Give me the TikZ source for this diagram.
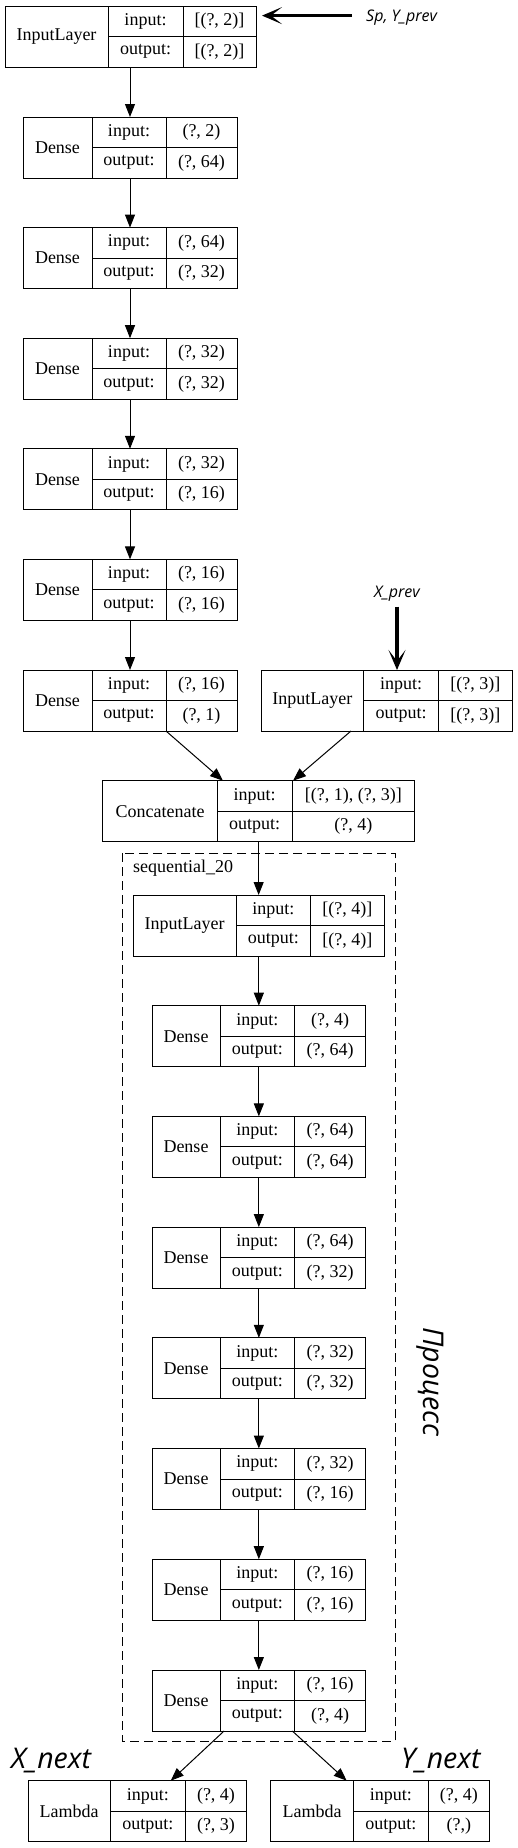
\documentclass[tikz,border=0pt]{standalone}
\usepackage{fontspec}
\setmainfont{Liberation Serif}
\newfontfamily\osans{Open Sans}
\usetikzlibrary{arrows.meta,calc}
\tikzset{
  rbox/.style={draw, line width=1pt, inner sep=0pt, outer sep=0pt, minimum height=61pt},
  rline/.style={line width=1pt},
  rtext/.style={inner sep=0pt, font=\fontsize{18}{20}\selectfont},
  edge/.style={line width=1pt, -{Triangle[length=13pt,width=10pt]}},
  bigarrow/.style={line width=3.2pt, -{Stealth[length=20pt,width=17pt,inset=11pt]}},
  small/.style={inner sep=0pt, font=\osans\itshape\fontsize{16}{18}\selectfont},
  big/.style={inner sep=0pt, font=\osans\itshape\fontsize{28.5}{32}\selectfont},
  cluster/.style={line width=1pt, dash pattern=on 9pt off 5pt},
}
\newcommand{\rec}[9]{%
  \node[rbox, minimum width={#5-#2}, anchor=north west] (#1) at (#2,-#6) {};
  \draw[rline] (#3,-#6) -- (#3,{-#6-61});
  \draw[rline] (#3,{-#6-30.5}) -- (#5,{-#6-30.5});
  \draw[rline] (#4,-#6) -- (#4,{-#6-61});
  \node[rtext] (#1-n) at ({(#2+#3)/2},{-#6-30.5}) {#7};
  \node[rtext] (#1-il) at ({(#3+#4)/2},{-#6-15.25}) {input:};
  \node[rtext] (#1-iv) at ({(#4+#5)/2},{-#6-15.25}) {#8};
  \node[rtext] (#1-ol) at ({(#3+#4)/2},{-#6-45.75}) {output:};
  \node[rtext] (#1-ov) at ({(#4+#5)/2},{-#6-45.75}) {#9};
}
\begin{document}
\begin{tikzpicture}[x=1pt,y=1pt]
\useasboundingbox (0,0) rectangle (517,-1848);
% cluster
\draw[cluster] (122.7,-853.3) rectangle (395,-1741.7);
\node[rtext, anchor=west] (seq) at (133,-868) {sequential\_20};
% outer chain
\rec{in1}{5}{108}{183}{256}{6}{InputLayer}{[(?, 2)]}{[(?, 2)]}
\rec{d1}{23}{92}{166}{237}{117}{Dense}{(?, 2)}{(?, 64)}
\rec{d2}{23}{92}{166}{237}{227.6}{Dense}{(?, 64)}{(?, 32)}
\rec{d3}{23}{92}{166}{237}{338.2}{Dense}{(?, 32)}{(?, 32)}
\rec{d4}{23}{92}{166}{237}{448.8}{Dense}{(?, 32)}{(?, 16)}
\rec{d5}{23}{92}{166}{237}{559.4}{Dense}{(?, 16)}{(?, 16)}
\rec{d6}{23}{92}{166}{237}{670}{Dense}{(?, 16)}{(?, 1)}
\rec{in2}{261}{363.7}{438.7}{512}{670}{InputLayer}{[(?, 3)]}{[(?, 3)]}
\rec{cc}{102.7}{217.3}{292}{414.7}{780.7}{Concatenate}{[(?, 1), (?, 3)]}{(?, 4)}
% inner chain
\rec{in3}{133.3}{236}{310.7}{384}{895}{InputLayer}{[(?, 4)]}{[(?, 4)]}
\rec{e1}{152}{220}{294.7}{365.7}{1005.7}{Dense}{(?, 4)}{(?, 64)}
\rec{e2}{152}{220}{294.7}{365.7}{1116.4}{Dense}{(?, 64)}{(?, 64)}
\rec{e3}{152}{220}{294.7}{365.7}{1227.1}{Dense}{(?, 64)}{(?, 32)}
\rec{e4}{152}{220}{294.7}{365.7}{1337.8}{Dense}{(?, 32)}{(?, 32)}
\rec{e5}{152}{220}{294.7}{365.7}{1448.5}{Dense}{(?, 32)}{(?, 16)}
\rec{e6}{152}{220}{294.7}{365.7}{1559.2}{Dense}{(?, 16)}{(?, 16)}
\rec{e7}{152}{220}{294.7}{365.7}{1670}{Dense}{(?, 16)}{(?, 4)}
\rec{l1}{28}{110.3}{185.3}{246.7}{1780.7}{Lambda}{(?, 4)}{(?, 3)}
\rec{l2}{270.7}{353.3}{428.3}{489.3}{1780.7}{Lambda}{(?, 4)}{(?,)}
% edges
\draw[edge] (d1.north |- in1.south) -- (d1.north);
\draw[edge] (d1.south) -- (d2.north);
\draw[edge] (d2.south) -- (d3.north);
\draw[edge] (d3.south) -- (d4.north);
\draw[edge] (d4.south) -- (d5.north);
\draw[edge] (d5.south) -- (d6.north);
\draw[edge] ([xshift=36pt]d6.south) -- ([xshift=-35.7pt]cc.north);
\draw[edge] ([xshift=-35.5pt]in2.south) -- ([xshift=34.3pt]cc.north);
\draw[edge] (cc.south -| in3.north) -- (in3.north);
\draw[edge] (in3.south -| e1.north) -- (e1.north);
\draw[edge] (e1.south) -- (e2.north);
\draw[edge] (e2.south) -- (e3.north);
\draw[edge] (e3.south) -- (e4.north);
\draw[edge] (e4.south) -- (e5.north);
\draw[edge] (e5.south) -- (e6.north);
\draw[edge] (e6.south) -- (e7.north);
\draw[edge] ([xshift=-34.8pt]e7.south) -- ([xshift=33.4pt]l1.north);
\draw[edge] ([xshift=33.5pt]e7.south) -- ([xshift=-33.3pt]l2.north);
% annotations
\node[small, anchor=base west] (sp) at (366,-21.5) {Sp, Y\_prev};
\coordinate (spa) at ([xshift=-14pt,yshift=2pt]sp.west);
\draw[bigarrow] (spa) -- ([xshift=6pt]in1.east |- spa);
\node[small, anchor=base] (xp) at (397,-597.5) {X\_prev};
\coordinate (xpa) at ([yshift=-5pt]xp.south);
\draw[bigarrow] (xpa) -- (xpa |- in2.north);
\node[big, anchor=base west] (xn) at (11,-1768) {X\_next};
\node[big, anchor=base west] (yn) at (401,-1768) {Y\_next};
\node[big, rotate=-90] (proc) at (430,-1382) {Процесс};
\end{tikzpicture}
\end{document}
